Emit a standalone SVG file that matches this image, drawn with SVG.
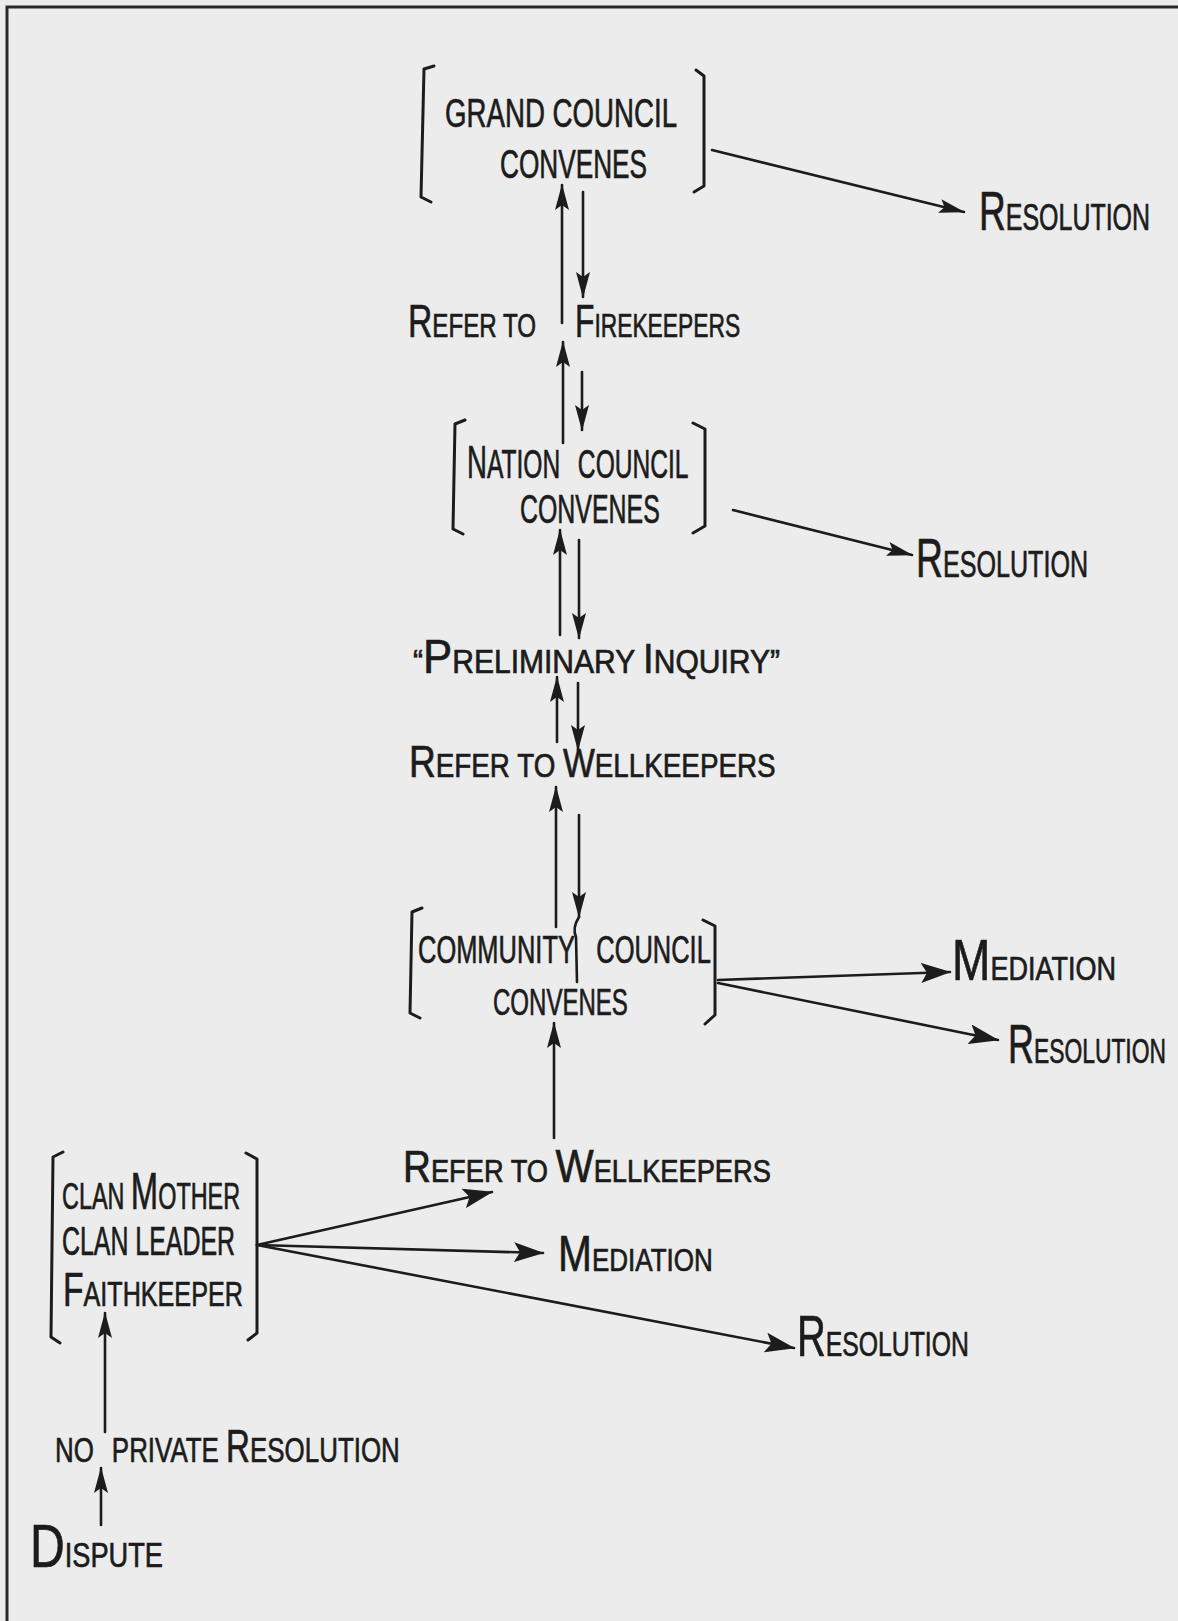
<svg xmlns="http://www.w3.org/2000/svg" width="1178" height="1621" viewBox="0 0 1178 1621">
<defs>
<style>
.t{font-family:"Liberation Sans",Arial,sans-serif;fill:#1c1c1c;stroke:#1c1c1c;stroke-width:0.7}
.ln{stroke:#1c1c1c;stroke-width:2.6;fill:none;stroke-linecap:round}
.br{stroke:#1c1c1c;stroke-width:3;fill:none;stroke-linecap:round;stroke-linejoin:round}
.fr{stroke:#2a2a2a;stroke-width:3;fill:none}
.ar{marker-end:url(#ah)}
.ab{marker-end:url(#ahb)}
</style>
<marker id="ah" viewBox="0 0 26 14" refX="25" refY="7" markerWidth="26" markerHeight="14" markerUnits="userSpaceOnUse" orient="auto"><path d="M0,0 L26,7 L0,14 L5,7 z" fill="#1c1c1c"/></marker>
<marker id="ahb" viewBox="0 0 30 20" refX="29" refY="10" markerWidth="30" markerHeight="20" markerUnits="userSpaceOnUse" orient="auto"><path d="M0,0 L30,10 L0,20 L6,10 z" fill="#1c1c1c"/></marker>
</defs>
<rect x="0" y="0" width="1178" height="1621" fill="#ececec"/>
<path class="fr" d="M7,1621 L7,7 L1178,7"/>

<g id="connectors">
<path class="ln ar" d="M562,323 L562,185"/>
<path class="ln ar" d="M583,192 L583,297"/>
<path class="ln ar" d="M563,443 L563,342"/>
<path class="ln ar" d="M582,372 L582,430"/>
<path class="ln ar" d="M560,635 L560,530"/>
<path class="ln ar" d="M579,540 L579,638"/>
<path class="ln ar" d="M557,742 L557,677"/>
<path class="ln ar" d="M578,683 L578,750"/>
<path class="ln ar" d="M556,927 L556,787"/>
<path class="ln ar" d="M579,815 L579,917"/>
<path class="ln" d="M579,917 Q572,928 576,937 L577,982"/>
<path class="ln ar" d="M554,1138 L554,1023"/>
<path class="ln ar" d="M712,150 L964,212"/>
<path class="ln ar" d="M733,510 L912,555"/>
<path class="ln ab" d="M718,980 L950,972"/>
<path class="ln ab" d="M718,983 L998,1040"/>
<path class="ln ab" d="M257,1245 L492,1192"/>
<path class="ln ab" d="M257,1245 L543,1253"/>
<path class="ln ab" d="M257,1245 L794,1348"/>
<path class="ln ar" d="M105,1432 L105,1313"/>
<path class="ln ar" d="M101,1525 L101,1468"/>
</g>

<g id="grand-council">
<path class="br" d="M434,66 L424,69 L421,197 L431,202"/>
<path class="br" d="M696,70 L704,76 L704,186 L694,192"/>
<text class="t" transform="translate(445,127) scale(0.675,1)" font-size="41">GRAND COUNCIL</text>
<text class="t" transform="translate(500,178) scale(0.639,1)" font-size="41">CONVENES</text>
</g>

<g id="resolution-grand">
<text class="t" transform="translate(979,230) scale(0.675,1)" font-size="37"><tspan font-size="55">R</tspan>ESOLUTION</text>
</g>

<g id="refer-firekeepers">
<text class="t" transform="translate(408,337) scale(0.732,1)" font-size="33"><tspan font-size="46">R</tspan>EFER TO</text>
<text class="t" transform="translate(575,337) scale(0.691,1)" font-size="33"><tspan font-size="46">F</tspan>IREKEEPERS</text>
</g>

<g id="nation-council">
<path class="br" d="M465,420 L455,424 L453,529 L463,534"/>
<path class="br" d="M693,423 L705,429 L705,526 L693,533"/>
<text class="t" transform="translate(467,478) scale(0.6,1)" font-size="41"><tspan font-size="46">N</tspan>ATION <tspan dx="18">COUNCIL</tspan></text>
<text class="t" transform="translate(520,523) scale(0.608,1)" font-size="41">CONVENES</text>
</g>

<g id="resolution-nation">
<text class="t" transform="translate(916,577) scale(0.679,1)" font-size="37"><tspan font-size="55">R</tspan>ESOLUTION</text>
</g>

<g id="preliminary-inquiry">
<text class="t" transform="translate(413,673) scale(0.911,1)" font-size="33">&#8220;<tspan font-size="48">P</tspan>RELIMINARY <tspan font-size="42">I</tspan>NQUIRY&#8221;</text>
</g>

<g id="refer-wellkeepers-1">
<text class="t" transform="translate(409,777) scale(0.843,1)" font-size="33"><tspan font-size="44">R</tspan>EFER TO <tspan font-size="40">W</tspan>ELLKEEPERS</text>
</g>

<g id="community-council">
<path class="br" d="M422,908 L412,912 L410,1013 L420,1018"/>
<path class="br" d="M703,920 L715,926 L715,1015 L705,1024"/>
<text class="t" transform="translate(418,963) scale(0.67,1)" font-size="38">COMMUNITY <tspan dx="22">COUNCIL</tspan></text>
<text class="t" transform="translate(493,1015) scale(0.650,1)" font-size="37">CONVENES</text>
</g>

<g id="mediation-community">
<text class="t" transform="translate(952,980) scale(0.795,1)" font-size="34"><tspan font-size="58">M</tspan>EDIATION</text>
</g>

<g id="resolution-community">
<text class="t" transform="translate(1008,1063) scale(0.653,1)" font-size="35"><tspan font-size="55">R</tspan>ESOLUTION</text>
</g>

<g id="clan">
<path class="br" d="M63,1152 L53,1157 L51,1337 L60,1343"/>
<path class="br" d="M246,1153 L257,1159 L257,1333 L248,1340"/>
<text class="t" transform="translate(62,1209) scale(0.632,1)" font-size="37">CLAN <tspan font-size="52">M</tspan>OTHER</text>
<text class="t" transform="translate(62,1255) scale(0.623,1)" font-size="40">CLAN LEADER</text>
<text class="t" transform="translate(63,1306) scale(0.699,1)" font-size="36"><tspan font-size="48">F</tspan>AITHKEEPER</text>
</g>

<g id="refer-wellkeepers-2">
<text class="t" transform="translate(403,1182) scale(0.879,1)" font-size="31"><tspan font-size="44">R</tspan>EFER TO <tspan font-size="46">W</tspan>ELLKEEPERS</text>
</g>

<g id="mediation-clan">
<text class="t" transform="translate(558,1271) scale(0.814,1)" font-size="32"><tspan font-size="50">M</tspan>EDIATION</text>
</g>

<g id="resolution-clan">
<text class="t" transform="translate(797,1356) scale(0.688,1)" font-size="36"><tspan font-size="58">R</tspan>ESOLUTION</text>
</g>

<g id="no-private-resolution">
<text class="t" transform="translate(55,1462) scale(0.72,1)" font-size="36">NO <tspan dx="15">PRIVATE </tspan><tspan font-size="46">R</tspan>ESOLUTION</text>
</g>

<g id="dispute">
<text class="t" transform="translate(30,1567) scale(0.777,1)" font-size="35"><tspan font-size="62">D</tspan>ISPUTE</text>
</g>
</svg>
